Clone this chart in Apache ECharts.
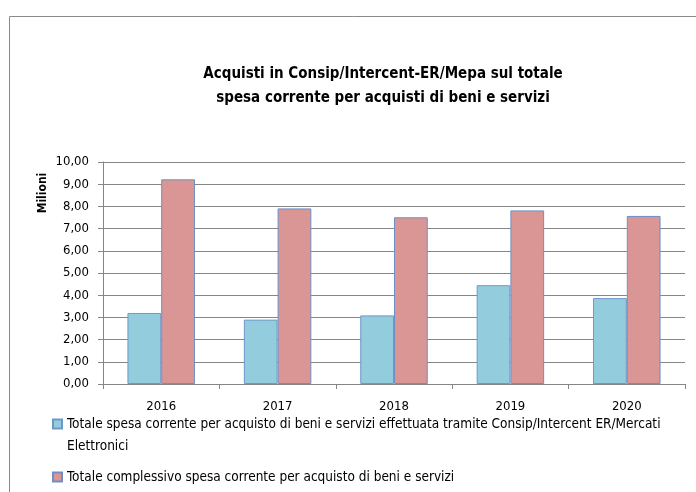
<!DOCTYPE html>
<html>
<head>
<meta charset="utf-8">
<script src="https://cdn.jsdelivr.net/npm/echarts@6/dist/echarts.min.js"></script>
<style>html,body{margin:0;padding:0;background:#fff}#c{width:696px;height:492px}</style>
</head>
<body>
<div id="c"></div>
<script>
const categories = ['2016', '2017', '2018', '2019', '2020'];
const consipValues = [3.20, 2.90, 3.09, 4.45, 3.87];
const totalValues = [9.22, 7.91, 7.51, 7.82, 7.57];
const seriesNames = [
  'Totale spesa corrente per acquisto di beni e servizi effettuata tramite Consip/Intercent ER/Mercati Elettronici',
  'Totale complessivo spesa corrente per acquisto di beni e servizi'
];
const titleText = 'Acquisti in Consip/Intercent-ER/Mepa sul totale\nspesa corrente per acquisti di beni e servizi';
const yAxisName = 'Milioni';

const FONT = "'DejaVu Sans Condensed', 'Liberation Sans', sans-serif";
const chart = echarts.init(document.getElementById('c'));
chart.setOption({
  backgroundColor: '#fff',
  animation: false,
  textStyle: { fontFamily: FONT },
  title: {
    text: titleText,
    left: 378, top: 57, textAlign: 'center',
    textStyle: { fontFamily: FONT, fontSize: 15, fontWeight: 'bold', color: '#000', lineHeight: 24 }
  },
  graphic: [
    { type: 'rect', silent: true, shape: { x: 9.5, y: 16.5, width: 720, height: 520 },
      style: { fill: 'none', stroke: '#8a8a8a', lineWidth: 1 } },
    { type: 'text', x: 43, y: 193, rotation: Math.PI / 2,
      style: { text: yAxisName, fontFamily: FONT, fontSize: 12, fontWeight: 'bold', fill: '#000',
               align: 'center', verticalAlign: 'middle' } }
  ],
  legend: [
    {
      orient: 'vertical', left: 52, top: 391, padding: 0,
      itemWidth: 9, itemHeight: 9, icon: 'rect',
      data: [seriesNames[0]],
      formatter: name => '\n' + name,
      textStyle: { fontFamily: FONT, fontSize: 13.5, color: '#000', lineHeight: 22, width: 615, overflow: 'break' }
    },
    {
      orient: 'vertical', left: 52, top: 466, padding: 0,
      itemWidth: 9, itemHeight: 9, icon: 'rect',
      data: [seriesNames[1]],
      textStyle: { fontFamily: FONT, fontSize: 13.5, color: '#000', lineHeight: 22 }
    }
  ],
  grid: { left: 103, right: 11, top: 162, bottom: 108, containLabel: false },
  xAxis: {
    type: 'category', data: categories,
    axisLine: { lineStyle: { color: '#868686' } },
    axisTick: { show: true, length: 5, lineStyle: { color: '#868686' } },
    axisLabel: { fontFamily: FONT, fontSize: 13, color: '#000', margin: 16 }
  },
  yAxis: {
    type: 'value', min: 0, max: 10, interval: 1,
    axisLine: { show: true, lineStyle: { color: '#868686' } },
    axisTick: { show: true, length: 5, lineStyle: { color: '#868686' } },
    splitLine: { lineStyle: { color: '#868686', width: 1 } },
    axisLabel: { fontFamily: FONT, fontSize: 13, color: '#000', margin: 14,
      formatter: v => v.toFixed(2).replace('.', ',') }
  },
  series: [
    { name: seriesNames[0], type: 'bar', data: consipValues, barGap: '0%', barCategoryGap: '42%',
      itemStyle: { color: '#93CDDD', borderColor: '#6f97c9', borderWidth: 1 } },
    { name: seriesNames[1], type: 'bar', data: totalValues,
      itemStyle: { color: '#D99694', borderColor: '#6f8fc4', borderWidth: 1 } }
  ]
});
</script>
</body>
</html>
